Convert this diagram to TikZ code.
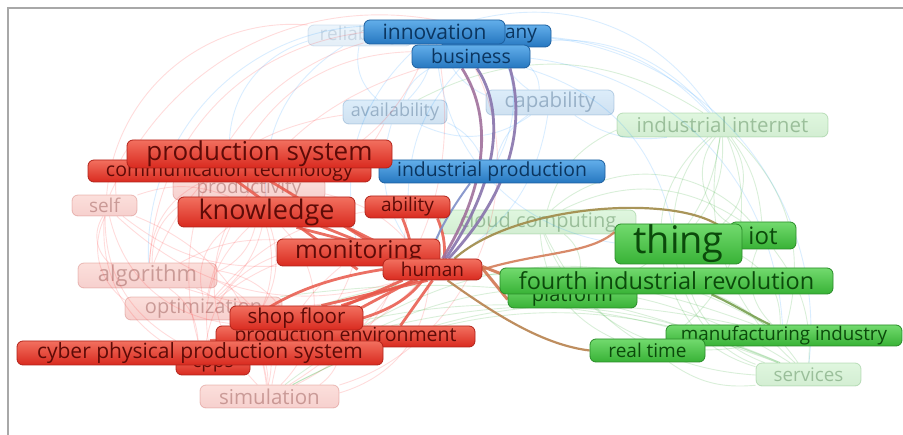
\documentclass[tikz,border=0pt]{standalone}
\usepackage{fontspec}
\setmainfont{Open Sans}
\definecolor{rtop}{HTML}{F2705F}
\definecolor{rbot}{HTML}{D92A1F}
\definecolor{rbd}{HTML}{B2231A}
\definecolor{rtx}{HTML}{5E0B07}
\definecolor{btop}{HTML}{62AEEA}
\definecolor{bbot}{HTML}{2677C0}
\definecolor{bbd}{HTML}{1D5F9F}
\definecolor{btx}{HTML}{0B355F}
\definecolor{gtop}{HTML}{72DA6E}
\definecolor{gbot}{HTML}{38B236}
\definecolor{gbd}{HTML}{2A8C29}
\definecolor{gtx}{HTML}{0B4A0B}
\definecolor{framec}{HTML}{A8A8A8}
\definecolor{redl}{HTML}{E8584A}
\definecolor{mauve}{HTML}{A0709C}
\definecolor{purp}{HTML}{8874AC}
\definecolor{bluel}{HTML}{7F8FC8}
\definecolor{olive}{HTML}{A08A48}
\definecolor{orng}{HTML}{D27650}
\definecolor{brn}{HTML}{B8824E}
\definecolor{grl}{HTML}{78A050}
\newcommand{\vkw}[8]{\node[#1, minimum width=#5pt, minimum height=#6pt, font=\fontsize{#7}{#7}\selectfont] (#2) at (#3,#4) {#8};}
\begin{document}
\begin{tikzpicture}[x=1pt,y=-1pt,
  base/.style={rounded corners=6pt, inner sep=0pt, line width=0.8pt},
  rn/.style={base, top color=rtop, bottom color=rbot, draw=rbd, text=rtx},
  bn/.style={base, top color=btop, bottom color=bbot, draw=bbd, text=btx},
  gn/.style={base, top color=gtop, bottom color=gbot, draw=gbd, text=gtx},
  faded/.style={fill opacity=0.22, draw opacity=0.25, text opacity=0.3},
  rf/.style={rn, faded},
  bf/.style={bn, faded},
  gf/.style={gn, faded},
  fr/.style={draw=red!75!white, line width=0.9pt, opacity=0.18},
  fb/.style={draw=blue!45!cyan, line width=0.9pt, opacity=0.15},
  fg/.style={draw=green!60!black, line width=0.9pt, opacity=0.15},
  rl/.style={draw=redl, line width=2.8pt, opacity=0.85},
  pl/.style={line width=2.8pt, opacity=0.9},
]
\useasboundingbox (0,0) rectangle (903,435);
\fill[white] (0,0) rectangle (903,435);
\draw[framec, line width=1.3pt] (8,435) -- (8,8) -- (903,8);

% ---------- faded nodes ----------
\vkw{bf, fill opacity=0.12, draw opacity=0.15, text opacity=0.14}{reli}{360}{35.5}{104}{21}{19}{reliability}
\vkw{bf}{avail}{395}{112}{104}{24}{18}{availability}
\vkw{bf}{capab}{550}{102.5}{128}{25}{20.5}{capability}
\vkw{rf}{produc}{249}{189}{152}{22}{19}{productivity}
\vkw{rf}{self}{104.5}{205.5}{65}{21}{19}{self}
\vkw{rf}{algo}{147.5}{275.5}{139}{25}{22}{algorithm}
\vkw{rf}{optim}{203.5}{308.5}{157}{23}{20}{optimization}
\vkw{rf}{simul}{269.5}{396.5}{139}{23}{20.5}{simulation}
\vkw{gf}{iinet}{722.5}{125}{211}{24}{20.5}{industrial internet}
\vkw{gf}{cloud}{538}{222}{196}{24}{20}{cloud computing}
\vkw{gf}{serv}{808.5}{374.5}{105}{23}{18.8}{services}

% ---------- solid nodes (placed now, drawn later) ----------
\begin{scope}[opacity=0]
\vkw{bn}{comp}{496}{36}{110}{22}{19}{company}
\vkw{bn}{innov}{434.5}{32}{141}{24}{21}{innovation}
\vkw{bn}{busi}{471}{56.5}{118}{23}{19.5}{business}
\vkw{bn}{indprod}{492}{171.5}{226}{23}{19.4}{industrial production}
\vkw{rn}{comm}{229.5}{171}{283}{22}{19.5}{communication technology}
\vkw{rn}{prodsys}{259.5}{154}{265}{28}{26}{production system}
\vkw{rn}{know}{266.5}{212}{177}{30}{27}{knowledge}
\vkw{rn}{abil}{407.5}{207}{85}{22}{19}{ability}
\vkw{rn}{moni}{358.5}{252.5}{163}{27}{24.5}{monitoring}
\vkw{rn}{human}{432.5}{269.5}{99}{21}{19}{human}
\vkw{rn}{penv}{345.5}{336.5}{259}{21}{19.5}{production environment}
\vkw{rn}{shop}{296.5}{318}{133}{24}{20.5}{shop floor}
\vkw{rn}{cpps}{213}{365}{74}{20}{19}{cpps}
\vkw{rn}{cyber}{200}{353}{366}{24}{21}{cyber physical production system}
\vkw{gn}{iot}{763}{235.5}{66}{27}{24}{iot}
\vkw{gn}{thing}{678.5}{244}{127}{40}{38}{thing}
\vkw{gn}{plat}{572.5}{296.5}{129}{23}{20}{platform}
\vkw{gn}{fourth}{666.5}{281}{333}{26}{23.5}{fourth industrial revolution}
\vkw{gn}{manu}{784}{335.5}{236}{21}{18.8}{manufacturing industry}
\vkw{gn}{rtime}{647.5}{350.5}{115}{23}{19}{real time}
\end{scope}

% ---------- faint edges ----------
\foreach \a/\b/\bd in {self/algo/-40, self/simul/30, self/know/20, self/cyber/-30,
  algo/simul/40, algo/human/-20, algo/produc/30, optim/human/25, optim/simul/30,
  simul/human/-35, simul/moni/20, produc/simul/-40, produc/human/20, comm/algo/-30,
  produc/cpps/40, self/human/-30, algo/shop/20, simul/penv/-25, self/prodsys/25,
  algo/know/-25, cpps/know/30, simul/know/-45, optim/prodsys/-30, self/optim/-40,
  algo/innov/40, simul/busi/-50, self/reli/45, comm/busi/30, produc/avail/-20,
  cyber/moni/30, cpps/moni/-30, optim/know/35, algo/cyber/25, self/moni/-20,
  simul/abil/-30, optim/abil/20, cpps/human/-20, algo/moni/15, simul/innov/-35,
  optim/busi/30, self/comp/40, cyber/innov/45, algo/avail/30, produc/innov/-25,
  self/shop/-35, cpps/self/35, simul/algo/-30, cyber/know/-40}
  \draw[fr] (\a) to[bend left=\bd] (\b);
\foreach \a/\b/\bd in {avail/busi/20, capab/busi/-20, avail/innov/-20, capab/innov/25,
  reli/busi/20, avail/indprod/20, capab/indprod/-20, capab/iinet/-20, comp/capab/-20,
  innov/thing/-40, busi/iinet/30, comp/iinet/20, avail/human/-30, busi/thing/30,
  reli/avail/-30, innov/moni/-30, comp/indprod/25, reli/know/-30, busi/abil/-20,
  innov/iinet/35, reli/comm/-40, comp/serv/45, busi/manu/40, innov/algo/-45,
  avail/capab/-30, capab/human/25}
  \draw[fb] (\a) to[bend left=\bd] (\b);
\foreach \a/\b/\bd in {iinet/thing/20, iinet/serv/-30, iinet/manu/30, cloud/serv/-30,
  cloud/iinet/25, iot/serv/20, thing/serv/-30, plat/serv/30, rtime/serv/-20,
  plat/iinet/-30, iot/iinet/-15, fourth/iinet/30, serv/simul/-25, serv/cpps/-20,
  manu/simul/-20, rtime/cloud/30, cloud/human/-20, serv/optim/-15, iinet/avail/-30,
  plat/cloud/-40, manu/cloud/40, iot/manu/-35, thing/manu/30, rtime/iinet/-40,
  serv/penv/-18, manu/cyber/-22, iot/cloud/-30, fourth/serv/-25, iinet/iot/-50,
  thing/iinet/-45, serv/iinet/60, cloud/iot/45, serv/simul/-35, manu/penv/-30}
  \draw[fg] (\a) to[bend left=\bd] (\b);

% ---------- strong edges ----------
\draw[rl] ([xshift=-40]prodsys.south) -- ([xshift=-25]human.west);
\draw[rl] ([xshift=-10]prodsys.south) -- ([xshift=-35]human.north);
\draw[rl] ([xshift=30]know.south) -- ([xshift=-15]human.north);
\draw[rl] ([xshift=-70]know.east) -- ([xshift=-30]human.north);
\draw[rl] ([xshift=-8]know.south east) -- ([xshift=-22]human.north);
\draw[rl] ([xshift=-5]abil.south) to[bend left=8] ([xshift=-20]human.north);
\draw[rl] ([xshift=30]abil.south) to[bend left=12] ([xshift=12]human.north);
\draw[rl] ([xshift=-15]human.south) -- ([xshift=45]shop.north);
\draw[rl] ([xshift=-5]human.south) -- ([xshift=25]shop.north);
\draw[rl] (human.south) -- ([xshift=55]penv.north);
\draw[rl] ([xshift=-20]human.south) -- ([xshift=100]cyber.north);
\draw[rl] ([xshift=-30]human.south) -- ([xshift=20]cpps.north);
\draw[rl] (human.west) .. controls (340,276) and (300,288) .. ([xshift=-15]optim.east);
\draw[rl] ([xshift=-10]human.south) .. controls (400,310) and (360,330) .. ([xshift=10]cyber.north);

\draw[pl, draw=mauve] ([xshift=10]human.north) .. controls (485,190) and (495,120) .. ([xshift=-9]busi.south);
\draw[pl, draw=purp] ([xshift=13]human.north) .. controls (500,180) and (505,110) .. ([xshift=6]busi.south);
\draw[pl, draw=purp] ([xshift=16]human.north) .. controls (522,180) and (522,110) .. ([xshift=39]busi.south);
\draw[line width=2pt, draw=bluel, opacity=0.9] ([xshift=-4]human.north) .. controls (440,225) and (458,200) .. ([xshift=-22]indprod.south);

\draw[line width=2.2pt, draw=olive, opacity=0.9] ([xshift=22]human.north) .. controls (520,200) and (700,192) .. (iot.west);
\draw[line width=2.2pt, draw=orng, opacity=0.85] (human.east) .. controls (540,252) and (590,254) .. ([yshift=12]thing.west);
\draw[line width=3pt, draw=orng, opacity=0.9] ([yshift=3]human.east) -- ([xshift=20]fourth.west);
\draw[line width=3pt, draw=orng, opacity=0.9] ([xshift=-4,yshift=6]human.east) -- ([yshift=-3]plat.west);
\draw[line width=2.2pt, draw=brn, opacity=0.9] ([xshift=15]human.south) .. controls (500,318) and (545,345) .. (rtime.west);
\draw[line width=2.2pt, draw=grl, opacity=0.9] ([xshift=45]fourth.south) .. controls (735,305) and (755,318) .. ([xshift=-14]manu.north);

% ---------- solid nodes ----------
\vkw{bn}{comp2}{496}{36}{110}{22}{19}{company}
\vkw{bn}{innov2}{434.5}{32}{141}{24}{21}{innovation}
\vkw{bn}{busi2}{471}{56.5}{118}{23}{19.5}{business}
\vkw{bn}{indprod2}{492}{171.5}{226}{23}{19.4}{industrial production}
\vkw{rn}{comm2}{229.5}{171}{283}{22}{19.5}{communication technology}
\vkw{rn}{prodsys2}{259.5}{154}{265}{28}{26}{production system}
\vkw{rn}{know2}{266.5}{212}{177}{30}{27}{knowledge}
\vkw{rn}{abil2}{407.5}{207}{85}{22}{19}{ability}
\vkw{rn}{moni2}{358.5}{252.5}{163}{27}{24.5}{monitoring}
\vkw{rn}{human2}{432.5}{269.5}{99}{21}{19}{human}
\vkw{rn}{penv2}{345.5}{336.5}{259}{21}{19.5}{production environment}
\vkw{rn}{shop2}{296.5}{318}{133}{24}{20.5}{shop floor}
\vkw{rn}{cpps2}{213}{365}{74}{20}{19}{cpps}
\vkw{rn}{cyber2}{200}{353}{366}{24}{21}{cyber physical production system}
\vkw{gn}{iot2}{763}{235.5}{66}{27}{24}{iot}
\vkw{gn}{thing2}{678.5}{244}{127}{40}{38}{thing}
\vkw{gn}{plat2}{572.5}{296.5}{129}{23}{20}{platform}
\vkw{gn}{fourth2}{666.5}{281}{333}{26}{23.5}{fourth industrial revolution}
\vkw{gn}{manu2}{784}{335.5}{236}{21}{18.8}{manufacturing industry}
\vkw{gn}{rtime2}{647.5}{350.5}{115}{23}{19}{real time}
\end{tikzpicture}
\end{document}
